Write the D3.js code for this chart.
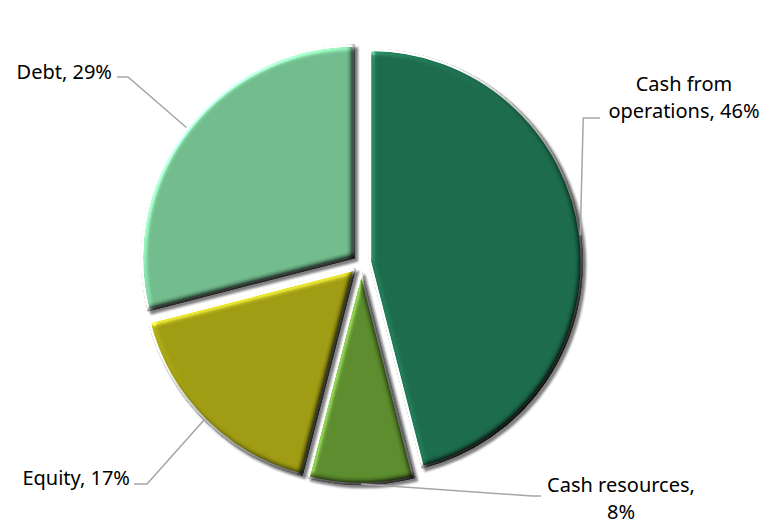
<!DOCTYPE html>
<html>
<head>
<meta charset="utf-8">
<script src="https://cdn.jsdelivr.net/npm/d3@7"></script>
<style>
html,body{margin:0;padding:0;background:#fff;}
svg{display:block;}
text{font-family:"Noto Sans",Tahoma,sans-serif;font-size:20px;fill:#000;}
</style>
</head>
<body>
<svg id="chart" width="769" height="525"></svg>
<script>
const categories = ["Cash from operations", "Cash resources", "Equity", "Debt"];
const values = [46, 8, 17, 29];
const labelLines = [["Cash from", "operations, 46%"], ["Cash resources,", "8%"], ["Equity, 17%"], ["Debt, 29%"]];
const colors = ["#1b6a4b", "#5b8b2c", "#9e9b12", "#70ba8c"];

const W = 769, H = 525;
const cx = 361, cy = 263, R = 212, explode = 9;

const svg = d3.select("#chart");
svg.append("rect").attr("width", W).attr("height", H).attr("fill", "#fff");

const defs = svg.append("defs");
const f = defs.append("filter").attr("id", "bevel")
  .attr("color-interpolation-filters", "sRGB")
  .attr("x", "-10%").attr("y", "-10%").attr("width", "120%").attr("height", "120%");
f.append("feGaussianBlur").attr("in", "SourceAlpha").attr("stdDeviation", 3).attr("result", "blur");
const dl = f.append("feDiffuseLighting").attr("in", "blur").attr("surfaceScale", 4)
  .attr("diffuseConstant", 1).attr("lighting-color", "#fff").attr("result", "diff");
dl.append("feDistantLight").attr("azimuth", 225).attr("elevation", 45);
f.append("feComposite").attr("in", "SourceGraphic").attr("in2", "diff")
  .attr("operator", "arithmetic").attr("k1", 1.414).attr("k2", 0).attr("k3", 0).attr("k4", 0).attr("result", "shaded");
const sl = f.append("feSpecularLighting").attr("in", "blur").attr("surfaceScale", 4)
  .attr("specularConstant", 0.6).attr("specularExponent", 30).attr("lighting-color", "#fff").attr("result", "spec");
sl.append("feDistantLight").attr("azimuth", 225).attr("elevation", 35);
f.append("feComposite").attr("in", "spec").attr("in2", "SourceAlpha").attr("operator", "in").attr("result", "specIn");
f.append("feComposite").attr("in", "shaded").attr("in2", "specIn")
  .attr("operator", "arithmetic").attr("k2", 1).attr("k3", 0.5).attr("result", "lit0");
f.append("feComposite").attr("in", "lit0").attr("in2", "SourceAlpha").attr("operator", "in").attr("result", "lit");
f.append("feGaussianBlur").attr("in", "SourceAlpha").attr("stdDeviation", 1.2).attr("result", "sb");
f.append("feOffset").attr("in", "sb").attr("dx", 2.5).attr("dy", 2.5).attr("result", "so");
f.append("feFlood").attr("flood-color", "#000").attr("flood-opacity", 0.5).attr("result", "fl");
f.append("feComposite").attr("in", "fl").attr("in2", "so").attr("operator", "in").attr("result", "shadow");
const m = f.append("feMerge");
m.append("feMergeNode").attr("in", "shadow");
m.append("feMergeNode").attr("in", "lit");

const data = categories.map((c, i) => ({ name: c, value: values[i], color: colors[i], lines: labelLines[i] }));
const pie = d3.pie().sort(null).value(d => d.value).startAngle(0).endAngle(2 * Math.PI);
const arcs = pie(data);
const arc = d3.arc().innerRadius(0).outerRadius(R);

const g = svg.append("g").attr("transform", `translate(${cx},${cy})`);

function offset(a) {
  const mid = (a.startAngle + a.endAngle) / 2;
  return [explode * Math.sin(mid), -explode * Math.cos(mid)];
}
function anchor(a) {
  const mid = (a.startAngle + a.endAngle) / 2;
  const o = offset(a);
  return [cx + o[0] + R * Math.sin(mid), cy + o[1] - R * Math.cos(mid)];
}

g.selectAll("path.slice").data(arcs).enter().append("path")
  .attr("class", "slice")
  .attr("transform", d => `translate(${offset(d)[0]},${offset(d)[1]})`)
  .attr("d", arc)
  .attr("fill", d => d.data.color)
  .attr("stroke", "#ffffff")
  .attr("stroke-width", 2.5)
  .attr("stroke-linejoin", "miter")
  .attr("filter", "url(#bevel)");

// label layout (positions of label text and leader bends)
const layout = {
  "Cash from operations": { x: 684, y: [84, 111], anchor: "middle", bend: (p) => [[p[0] + 3, 118], [600, 118]] },
  "Cash resources": { x: 621, y: [485, 512], anchor: "middle", bend: (p) => [[532, 496], [541, 496]] },
  "Equity": { x: 130, y: [478], anchor: "end", bend: (p) => [[147, 484], [134, 484]] },
  "Debt": { x: 112, y: [72], anchor: "end", bend: (p) => [[128, 77], [117, 77]] }
};

const line = d3.line();
arcs.forEach(a => {
  const L = layout[a.data.name];
  const p = anchor(a);
  svg.append("path")
    .attr("d", line([p].concat(L.bend(p))))
    .attr("fill", "none").attr("stroke", "#a6a6a6").attr("stroke-width", 1.5);
  a.data.lines.forEach((t, i) => {
    svg.append("text")
      .attr("x", L.x).attr("y", L.y[i])
      .attr("dy", "0.35em")
      .attr("text-anchor", L.anchor)
      .text(t);
  });
});
</script>
</body>
</html>
